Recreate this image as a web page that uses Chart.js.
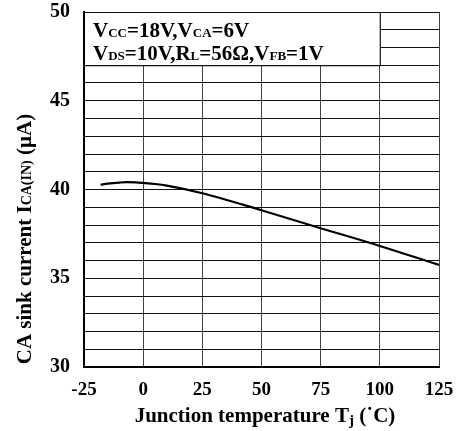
<!DOCTYPE html>
<html>
<head>
<meta charset="utf-8">
<script src="https://cdn.jsdelivr.net/npm/chart.js@4"></script>
<style>
  body { margin: 0; background: #fff; }
  canvas { display: block; }
</style>
</head>
<body>
<canvas id="chartSink" width="458" height="431"></canvas>
<script>
// temperatura Tj (°C) y corriente ICA(IN) (uA)
const temps = [-18, -15, -10, -7, -3, 0, 5, 10, 25, 50, 75, 100, 125];
const sinkCurrent = [40.27, 40.33, 40.39, 40.41, 40.40, 40.37, 40.31, 40.22, 39.79, 38.83, 37.82, 36.82, 35.75];
const xTicks = [-25, 0, 25, 50, 75, 100, 125];
const yTicks = [30, 35, 40, 45, 50];

const fuente = '"Liberation Serif", "Times New Roman", serif';

// escribe texto con subindices: partes [texto, tipo] (0 normal, 1 sub, 2 sub bajado)
function textoSub(ctx, partes, y, size, subSize) {
  let ancho = 0;
  partes.forEach(p => {
    ctx.font = 'bold ' + (p[1] ? subSize : size) + 'px ' + fuente;
    ancho += ctx.measureText(p[0]).width;
  });
  return {
    ancho: ancho,
    dibujar: function (x0) {
      let cx = x0;
      partes.forEach(p => {
        ctx.font = 'bold ' + (p[1] ? subSize : size) + 'px ' + fuente;
        ctx.fillText(p[0], cx, y + (p[1] === 2 ? 3 : 0));
        cx += ctx.measureText(p[0]).width;
      });
    }
  };
}

const cuadroCondiciones = {
  id: 'cuadroCondiciones',
  beforeDatasetsDraw(chart) {
    const ctx = chart.ctx;
    const x = chart.scales.x, y = chart.scales.y;
    const x0 = x.getPixelForValue(-25), x1 = x.getPixelForValue(100);
    const y0 = y.getPixelForValue(50), y1 = y.getPixelForValue(47);
    ctx.save();
    ctx.fillStyle = '#fff';
    ctx.fillRect(x0 + 1, y0 + 1, x1 - x0 - 1, y1 - y0 - 1);
    ctx.strokeStyle = '#000';
    ctx.lineWidth = 1;
    ctx.beginPath();
    ctx.moveTo(x1 + 0.5, y0);
    ctx.lineTo(x1 + 0.5, y1 + 0.5);
    ctx.lineTo(x0, y1 + 0.5);
    ctx.stroke();
    ctx.fillStyle = '#000';
    ctx.textBaseline = 'alphabetic';
    ctx.textAlign = 'left';
    const l1 = textoSub(ctx, [['V', 0], ['CC', 1], ['=18V,V', 0], ['CA', 1], ['=6V', 0]], y0 + 25, 21, 13);
    l1.dibujar(x0 + 9);
    const l2 = textoSub(ctx, [['V', 0], ['DS', 1], ['=10V,R', 0], ['L', 1], ['=56\u03A9,V', 0], ['FB', 1], ['=1V', 0]], y0 + 48, 21, 13);
    l2.dibujar(x0 + 9);
    ctx.restore();
  }
};

const titulosEjes = {
  id: 'titulosEjes',
  afterDraw(chart) {
    const ctx = chart.ctx;
    const area = chart.chartArea;
    ctx.save();
    ctx.fillStyle = '#000';
    ctx.textBaseline = 'alphabetic';
    ctx.textAlign = 'left';
    // eje x
    const tx = textoSub(ctx, [['Junction temperature T', 0], ['j', 2], [' (\u02D9C)', 0]], 422, 21, 15);
    tx.dibujar(265 - tx.ancho / 2);
    // eje y
    ctx.translate(31, 239);
    ctx.rotate(-Math.PI / 2);
    const ty = textoSub(ctx, [['CA sink current I', 0], ['CA(IN)', 1], [' (\u00B5A)', 0]], 0, 21, 14);
    ty.dibujar(-ty.ancho / 2);
    ctx.restore();
  }
};

// quita el relleno automatico de las etiquetas para fijar el area del grafico
function sinRelleno(s) {
  s.paddingTop = 0;
  s.paddingBottom = 0;
  s.paddingLeft = 0;
  s.paddingRight = 0;
}

const ctxSink = document.getElementById('chartSink');

new Chart(ctxSink, {
  type: 'line',
  data: {
    datasets: [{
      data: temps.map((t, i) => ({ x: t, y: sinkCurrent[i] })),
      borderColor: '#000',
      borderWidth: 2.2,
      pointRadius: 0,
      tension: 0.4,
      cubicInterpolationMode: 'monotone',
      fill: false
    }]
  },
  options: {
    responsive: false,
    animation: false,
    layout: { padding: { top: 12, right: 19, left: 0, bottom: 0 } },
    plugins: {
      legend: { display: false },
      tooltip: { enabled: false }
    },
    scales: {
      x: {
        type: 'linear',
        min: -25,
        max: 125,
        afterFit: s => { s.height = 64; sinRelleno(s); },
        afterBuildTicks: s => { s.ticks = xTicks.map(v => ({ value: v })); },
        grid: { color: '#444', lineWidth: 1, drawTicks: false },
        border: { color: '#000', width: 2 },
        ticks: {
          color: '#000',
          padding: 12,
          maxRotation: 0,
          font: { family: fuente, size: 19, weight: 'bold' }
        }
      },
      y: {
        min: 30,
        max: 50,
        afterFit: s => { s.width = 84; sinRelleno(s); },
        ticks: {
          stepSize: 1,
          color: '#000',
          padding: 14,
          autoSkip: false,
          font: { family: fuente, size: 20, weight: 'bold' },
          callback: v => (yTicks.includes(v) ? v : '')
        },
        grid: { color: '#111', lineWidth: 1, drawTicks: false },
        border: { color: '#000', width: 2 }
      }
    }
  },
  plugins: [cuadroCondiciones, titulosEjes]
});
</script>
</body>
</html>
